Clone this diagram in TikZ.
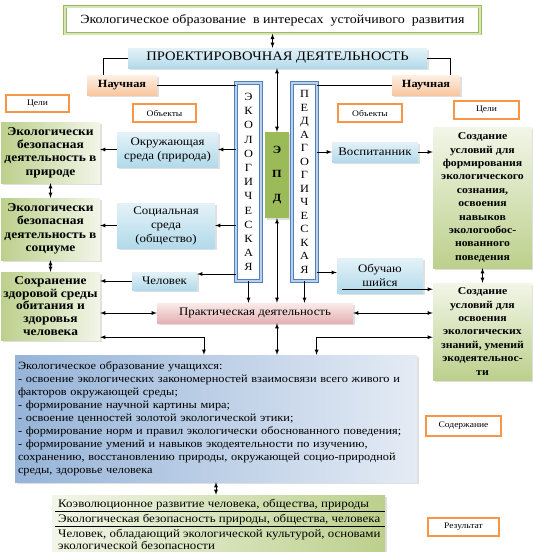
\documentclass[tikz,border=0pt]{standalone}
\usepackage{fontspec}
\setmainfont{Liberation Serif}[FakeStretch=1.12]
\usepackage{tikz}
\usetikzlibrary{calc,shadows}
\usepackage{color}
\definecolor{greenlight}{RGB}{242,246,232}
\definecolor{greendark}{RGB}{188,208,140}
\definecolor{bluelight}{RGB}{228,242,248}
\definecolor{bluedark}{RGB}{178,218,234}
\definecolor{contentlight}{RGB}{228,235,245}
\definecolor{contentdark}{RGB}{150,180,216}
\definecolor{pinklight}{RGB}{251,234,234}
\definecolor{pinkdark}{RGB}{228,178,178}
\definecolor{peachlight}{RGB}{253,240,228}
\definecolor{peachdark}{RGB}{248,198,158}
\definecolor{orangeline}{RGB}{247,150,70}
\definecolor{ekoline}{RGB}{79,129,189}
\definecolor{ekoband}{RGB}{188,208,236}
\definecolor{epdgreen}{RGB}{155,187,89}
\definecolor{titleband}{RGB}{215,228,188}
\newcommand{\fsz}[2]{\fontsize{#1}{#2}\selectfont}

\begin{document}
\begin{tikzpicture}[x=1pt,y=-1pt]
    % Setup the styles for the boxes
        \tikzset{box style/.style={inner sep=1pt, align=center,
                                    drop shadow={opacity=0.25, shadow xshift=1.5pt, shadow yshift=-1.5pt}},
                 goal style/.style={box style, left color=greendark, right color=greenlight,
                                    font=\bfseries\fsz{12}{13.4}},
                 goalr style/.style={box style, top color=greenlight, bottom color=greendark,
                                    font=\bfseries\fsz{10.5}{13.4}},
                 object style/.style={box style, top color=bluelight, bottom color=bluedark,
                                    font=\fsz{11.5}{14}},
                 tag style/.style={draw=orangeline, line width=1.6pt, fill=white,
                                    inner sep=1pt, font=\fsz{8.5}{10}},
                 column style/.style={draw=ekoline, double=ekoband, double distance=2pt,
                                    line width=0.6pt, fill=white, inner sep=0pt, align=center},
                 link/.style={draw, line width=0.8pt, >=latex}}
        \useasboundingbox (0,0) rectangle (533,552);
        % Draw the top boxes
        \node[draw=epdgreen, double=titleband, double distance=2pt, line width=0.6pt,
              fill=white, minimum width=415pt, minimum height=27pt, font=\fsz{12.5}{14}]
              at (272.5,20) (title) {Экологическое образование\ \ в интересах\ \ устойчивого\ \ развития};
        \node[box style, top color=bluelight, bottom color=bluedark, minimum width=299pt,
              minimum height=20pt, font=\fsz{13}{14}] at (277.5,58) (proj) {ПРОЕКТИРОВОЧНАЯ ДЕЯТЕЛЬНОСТЬ};
        \node[box style, top color=peachlight, bottom color=peachdark, minimum width=70pt,
              minimum height=20pt, font=\bfseries\fsz{11}{12}] at (122,85) (nauchL) {Научная};
        \node[box style, top color=peachlight, bottom color=peachdark, minimum width=68pt,
              minimum height=20pt, font=\bfseries\fsz{11}{12}] at (426,85) (nauchR) {Научная};
        % Labels
        \node[tag style, minimum width=63pt, minimum height=17pt] at (37.5,103.5) (celiL) {Цели};
        \node[tag style, minimum width=63pt, minimum height=18pt] at (164.5,113) (objL) {Объекты};
        \node[tag style, minimum width=64pt, minimum height=18pt] at (370,113) (objR) {Объекты};
        \node[tag style, minimum width=65pt, minimum height=18pt] at (486.5,110) (celiR) {Цели};
        \node[tag style, minimum width=75pt, minimum height=20pt] at (463.5,426) (sod) {Содержание};
        \node[tag style, minimum width=71pt, minimum height=18pt] at (463.5,527) (res) {Результат};
        % The three columns
        \node[column style, minimum width=25pt, minimum height=198pt, font=\fsz{11}{14.2}]
              at (248.5,182) (eko) {Э\\К\\О\\Л\\О\\Г\\И\\Ч\\Е\\С\\К\\А\\Я};
        \node[box style, fill=epdgreen, minimum width=24pt, minimum height=86pt,
              font=\bfseries\fsz{11}{24}] at (277,175) (epd) {Э\\П\\Д};
        \node[column style, minimum width=25pt, minimum height=198pt, font=\fsz{11}{13.5}]
              at (304.5,182) (ped) {П\\Е\\Д\\А\\Г\\О\\Г\\И\\Ч\\Е\\С\\К\\А\\Я};
        % Left side
        \node[goal style, minimum width=99pt, minimum height=61pt] at (50.5,152.5) (goal1)
              {Экологически\\безопасная\\деятельность в\\природе};
        \node[goal style, minimum width=99pt, minimum height=62pt] at (50.5,229) (goal2)
              {Экологически\\безопасная\\деятельность в\\социуме};
        \node[goal style, minimum width=99pt, minimum height=68pt, font=\bfseries\fsz{12}{12.8}]
              at (50.5,306) (goal3) {Сохранение\\здоровой среды\\обитания и\\здоровья\\человека};
        \node[object style, minimum width=101pt, minimum height=35pt] at (167.5,149.5) (env)
              {Окружающая\\среда (природа)};
        \node[object style, minimum width=98pt, minimum height=45pt] at (166,225.5) (soc)
              {Социальная\\среда\\(общество)};
        \node[object style, minimum width=65pt, minimum height=18pt] at (164.5,281) (man) {Человек};
        % Right side
        \node[object style, minimum width=86pt, minimum height=20pt] at (375,152) (vosp) {Воспитанник};
        \node[object style, minimum width=86pt, minimum height=35pt] at (380,275.5) (obuch)
              {Обучаю\\шийся};
        \node[goalr style, minimum width=99pt, minimum height=141pt] at (482.5,197.5) (goalR1)
              {Создание\\условий для\\формирования\\экологического\\сознания,\\освоения\\навыков\\экологообос-\\нованного\\поведения};
        \node[goalr style, minimum width=99pt, minimum height=97pt] at (482.5,331.5) (goalR2)
              {Создание\\условий для\\освоения\\экологических\\знаний, умений\\экодеятельнос-\\ти};
        % Practice and content
        \node[box style, top color=pinklight, bottom color=pinkdark, minimum width=196pt,
              minimum height=20pt, font=\fsz{11.5}{12}] at (255,313) (prakt) {Практическая деятельность};
        \node[box style, left color=contentdark, right color=contentlight, minimum width=402pt,
              minimum height=127pt, text width=396pt, align=left, font=\fsz{11}{13}]
              at (216,418.5) (content)
              {Экологическое образование учащихся:\\
               - освоение экологических закономерностей взаимосвязи всего живого и\\
               факторов окружающей среды;\\
               - формирование научной картины мира;\\
               - освоение ценностей золотой экологической этики;\\
               - формирование норм и правил экологически обоснованного поведения;\\
               - формирование умений и навыков экодеятельности по изучению,\\
               сохранению, восстановлению природы, окружающей социо-природной\\
               среды, здоровье человека};
        % Result
        \node[box style, left color=greenlight, right color=greendark, minimum width=333pt,
              minimum height=57pt] at (218.5,523.5) (result) {};
        \node[anchor=west, inner sep=0pt, font=\fsz{11.5}{12}] at (58,505) (res1)
              {Коэволюционное развитие человека, общества, природы};
        \node[anchor=west, inner sep=0pt, font=\fsz{11.5}{12}] at (58,520) (res2)
              {Экологическая безопасность природы, общества, человека};
        \node[anchor=north west, inner sep=0pt, align=left, font=\fsz{11.5}{12}] at (58,529) (res3)
              {Человек, обладающий экологической культурой, основами\\экологической безопасности};
        \draw[line width=0.8pt] ($(result.north west)+(3,17)$) -- ($(result.north east)+(0,17)$);
        \draw[line width=0.8pt] ($(result.north west)+(3,32)$) -- ($(result.north east)+(0,32)$);
        % Helper points
        \coordinate (nauchLtop) at ([xshift=-19pt]nauchL.north);
        \coordinate (nauchRtop) at ([xshift=24pt]nauchR.north);
        \coordinate (manin) at ([yshift=7pt]man.east);
        \coordinate (goal3low) at ([yshift=3pt]goal3.south east);
        \coordinate (leftdrop) at ($(content.north west)!0.47!(content.north east)$);
        \coordinate (rightdrop) at ($(content.north west)!0.75!(content.north east)$);
        \coordinate (obuchin) at ([yshift=3pt]obuch.west);
        \coordinate (obuchout) at ([xshift=5pt,yshift=4pt]obuch.south west);
        % Connect the boxes
        \draw[link,<->] (title.south) -- (title.south |- proj.north);
        \draw[link] (proj.west) -| (nauchLtop);
        \draw[link] (proj.east) -| (nauchRtop);
        \draw[link] (nauchL.east) -- (nauchL.east -| eko.west);
        \draw[link] (nauchR.west) -- (nauchR.west -| ped.east);
        \draw[link,<->] (epd.north) -- (epd.north |- proj.south);
        \draw[link,<->] (epd.south) -- (epd.south |- prakt.north);
        \draw[link,->] (eko.south) -- (eko.south |- prakt.north);
        \draw[link,->] (ped.south) -- (ped.south |- prakt.north);
        \draw[link,->] (eko.west |- env.east) -- (env.east);
        \draw[link,->] (env.west) -- (env.west -| goal1.east);
        \draw[link,->] (eko.west |- soc.east) -- (soc.east);
        \draw[link,->] (soc.west) -- (soc.west -| goal2.east);
        \draw[link,->] (eko.west |- manin) -- (manin);
        \draw[link,->] (man.west) -- (man.west -| goal3.east);
        \draw[link,<->] (goal1.south) -- (goal2.north);
        \draw[link,<->] (goal2.south) -- (goal3.north);
        \draw[link,<->] (prakt.west) -- (prakt.west -| goal3.east);
        \draw[link,<->] (goal3low) -| (leftdrop);
        \draw[link,<->] (prakt.south -| epd.south) -- (content.north -| epd.south);
        \draw[link,<->] (goalR2.west |- goal3low) -| (rightdrop);
        \draw[link,<->] (prakt.east) -- (prakt.east -| goalR2.west);
        \draw[link,->] (ped.east |- vosp.west) -- (vosp.west);
        \draw[link,->] (vosp.east) -- (vosp.east -| goalR1.west);
        \draw[link,->] (ped.east |- obuchin) -- (obuchin);
        \draw[link,->] (obuchout) -- (obuchout -| goalR2.west);
        \draw[link,<->] (goalR1.south) -- (goalR2.north);
        \draw[link,<->] (content.south) -- (content.south |- result.north);
\end{tikzpicture}
\end{document}
